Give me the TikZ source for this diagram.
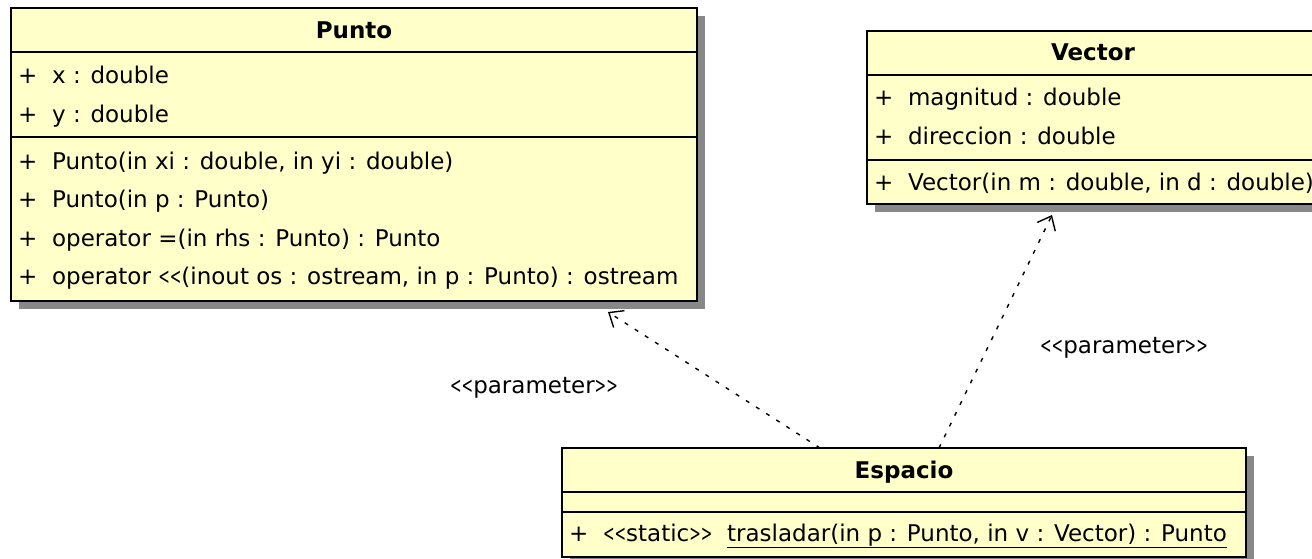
\documentclass[tikz,border=0pt]{standalone}
\usepackage{fontspec}
\setmainfont{DejaVu Sans}[Ligatures=TeXOff]
\usepackage{graphicx}
\usepackage{xcolor}
\usepackage{tikz}
\usetikzlibrary{shadows,arrows.meta,calc}

\definecolor{classyellow}{RGB}{255,255,202}
\definecolor{shadowgray}{RGB}{136,136,136}
\newcommand{\narrowlt}{\scalebox{0.6}[1]{<}}
\newcommand{\narrowgt}{\scalebox{0.6}[1]{>}}

\begin{document}
\begin{tikzpicture}[
    x=1pt, y=-1pt,
    classbox/.style={rectangle, draw, line width=1.6pt, fill=classyellow, anchor=north west,
        inner sep=0pt, outer sep=0pt,
        drop shadow={shadow xshift=8pt, shadow yshift=-8pt, fill=shadowgray, opacity=1}},
    classname/.style={font=\fontsize{23}{27}\selectfont\bfseries, anchor=base, inner sep=0pt},
    member/.style={font=\fontsize{23}{27}\selectfont, anchor=base west, inner sep=0pt},
    stereo/.style={font=\fontsize{23}{27}\selectfont, anchor=base, inner sep=0pt},
    divider/.style={line width=1.6pt},
    dep/.style={line width=1.4pt, dash pattern=on 4pt off 8pt, -{Straight Barb[length=12pt, width=20pt]}}
]
    \useasboundingbox (0,0) rectangle (1312,559);
    \clip (0,0) rectangle (1312,559);

    % Classes
    \node[classbox, minimum width=686pt, minimum height=293pt] (punto) at (11,8) {};
    \node[classbox, minimum width=452pt, minimum height=173pt] (vector) at (867,31) {};
    \node[classbox, minimum width=684pt, minimum height=109pt] (espacio) at (562,448) {};

    % Compartments
    \draw[divider] (11,52) -- (697,52);
    \draw[divider] (11,137) -- (697,137);
    \draw[divider] (867,75) -- (1319,75);
    \draw[divider] (867,160) -- (1319,160);
    \draw[divider] (562,492) -- (1246,492);
    \draw[divider] (562,512) -- (1246,512);

    % Punto
    \node[classname] (punto-name) at (354,39) {Punto};
    \node[member] (punto-x) at (18,84) {+\ \ x : double};
    \node[member] (punto-y) at (18,122.5) {+\ \ y : double};
    \node[member] (punto-ctor) at (18,169) {+\ \ Punto(in xi : double, in yi : double)};
    \node[member] (punto-copy) at (18,207.5) {+\ \ Punto(in p : Punto)};
    \node[member] (punto-assign) at (18,246) {+\ \ operator =(in rhs : Punto) : Punto};
    \node[member] (punto-out) at (18,284.5) {+\ \ operator \narrowlt\narrowlt(inout os : ostream, in p : Punto) : ostream};

    % Vector
    \node[classname] (vector-name) at (1093,61) {Vector};
    \node[member] (vector-mag) at (874,106) {+\ \ magnitud : double};
    \node[member] (vector-dir) at (874,144.5) {+\ \ direccion : double};
    \node[member] (vector-ctor) at (874,190) {+\ \ Vector(in m : double, in d : double)};

    % Espacio
    \node[classname] (espacio-name) at (904,478) {Espacio};
    \node[member] (espacio-move) at (569,541) {+\ \ \narrowlt\narrowlt static\narrowgt\narrowgt\ \ \underline{trasladar(in p : Punto, in v : Vector) : Punto}};

    % Dependencies
    \draw[dep] ($(espacio.north west)+(258,0)$) -- ($(punto.south west)+(597,11)$);
    \draw[dep] ($(espacio.north west)+(377,0)$) -- ($(vector.south west)+(185,11)$);
    \node[stereo] (param-punto) at (534,393) {\narrowlt\narrowlt parameter\narrowgt\narrowgt};
    \node[stereo] (param-vector) at (1124,353) {\narrowlt\narrowlt parameter\narrowgt\narrowgt};
\end{tikzpicture}
\end{document}
